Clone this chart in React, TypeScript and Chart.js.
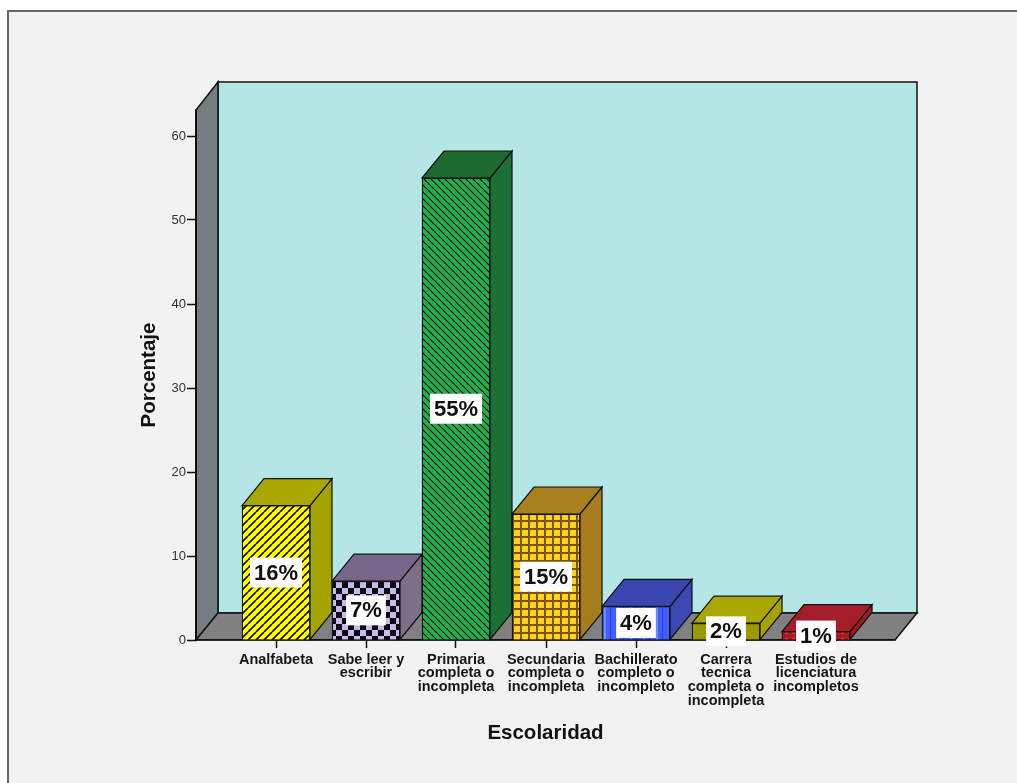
import React, { useEffect, useRef } from "react";
import { Chart, registerables } from "chart.js";

Chart.register(...registerables);

// Education level of the surveyed group
const categories: string[][] = [
  ["Analfabeta"],
  ["Sabe leer y", "escribir"],
  ["Primaria", "completa o", "incompleta"],
  ["Secundaria", "completa o", "incompleta"],
  ["Bachillerato", "completo o", "incompleto"],
  ["Carrera", "tecnica", "completa o", "incompleta"],
  ["Estudios de", "licenciatura", "incompletos"],
];
const percentages = [16, 7, 55, 15, 4, 2, 1];
const yTicks = [0, 10, 20, 30, 40, 50, 60];

const topColors = ["#aaa800", "#77668a", "#1c6a30", "#a8801e", "#3a46b0", "#aaa800", "#a61c28"];
const sideColors = ["#a5a300", "#7e6f88", "#1b7035", "#a67c1c", "#3c48b4", "#a5a300", "#a01a26"];

const FONT = '"Liberation Sans", Arial, sans-serif';
const DEPTH_X = 22;
const DEPTH_Y = 27;

type Painter = (g: CanvasRenderingContext2D, s: number) => void;

function tile(size: number, paint: Painter): CanvasPattern {
  const c = document.createElement("canvas");
  c.width = size;
  c.height = size;
  const g = c.getContext("2d") as CanvasRenderingContext2D;
  paint(g, size);
  return g.createPattern(c, "repeat") as CanvasPattern;
}

function diagonal(bg: string, rising: boolean, size: number, weight: number): CanvasPattern {
  return tile(size, (g, s) => {
    g.fillStyle = bg;
    g.fillRect(0, 0, s, s);
    g.strokeStyle = "#101010";
    g.lineWidth = weight;
    for (let k = -1; k <= 1; k++) {
      g.beginPath();
      if (rising) {
        g.moveTo(k * s, s);
        g.lineTo(k * s + s, 0);
      } else {
        g.moveTo(k * s, 0);
        g.lineTo(k * s + s, s);
      }
      g.stroke();
    }
  });
}

function frontPatterns(): (CanvasPattern | string)[] {
  const checker = tile(12, (g, s) => {
    g.fillStyle = "#c9b8e8";
    g.fillRect(0, 0, s, s);
    g.fillStyle = "#0a0a14";
    g.fillRect(0, 0, s / 2, s / 2);
    g.fillRect(s / 2, s / 2, s / 2, s / 2);
  });
  const grid = tile(8, (g, s) => {
    g.fillStyle = "#ffd21a";
    g.fillRect(0, 0, s, s);
    g.fillStyle = "#7a5410";
    g.fillRect(0, 0, s, 2);
    g.fillRect(0, 0, 2, s);
  });
  const stripes = tile(13, (g, s) => {
    g.fillStyle = "#3f60ff";
    g.fillRect(0, 0, s, s);
    g.fillStyle = "#6f88ff";
    g.fillRect(6, 0, 2, s);
    g.fillStyle = "#2a3ce0";
    g.fillRect(12, 0, 1, s);
  });
  const dots = tile(7, (g, s) => {
    g.fillStyle = "#a81c26";
    g.fillRect(0, 0, s, s);
    g.fillStyle = "#ff2a3a";
    g.fillRect(1, 1, 3, 3);
  });
  return [
    diagonal("#ffff00", true, 8, 1.7),
    checker,
    diagonal("#22b04c", false, 7, 1.2),
    grid,
    stripes,
    "#9c9a00",
    dots,
  ];
}

function polygon(ctx: CanvasRenderingContext2D, pts: number[][], fill: string | CanvasGradient, lw = 1.5) {
  ctx.beginPath();
  pts.forEach(([x, y], i) => (i ? ctx.lineTo(x, y) : ctx.moveTo(x, y)));
  ctx.closePath();
  ctx.fillStyle = fill;
  ctx.fill();
  ctx.lineWidth = lw;
  ctx.strokeStyle = "#111";
  ctx.stroke();
}

// Page panel, the box walls and the floor sit behind the axes
const panelPlugin = {
  id: "panel",
  beforeDraw(chart: any) {
    const { ctx, width, height } = chart;
    ctx.save();
    ctx.fillStyle = "#ffffff";
    ctx.fillRect(0, 0, width, height);
    ctx.fillStyle = "#f2f2f2";
    ctx.fillRect(8, 11, width - 8, height - 11);
    ctx.strokeStyle = "#666666";
    ctx.lineWidth = 2;
    ctx.beginPath();
    ctx.moveTo(8, height);
    ctx.lineTo(8, 11);
    ctx.lineTo(width, 11);
    ctx.stroke();

    const { left, right, top, bottom } = chart.chartArea;
    const bx = left + DEPTH_X;
    const bt = top - DEPTH_Y - 1;
    const bb = bottom - DEPTH_Y;
    const wall = ctx.createLinearGradient(left, 0, bx, 0);
    wall.addColorStop(0, "#7a7a7a");
    wall.addColorStop(1, "#6f8082");
    polygon(ctx, [[bx, bt], [right + DEPTH_X, bt], [right + DEPTH_X, bb], [bx, bb]], "#b3e6e5");
    polygon(ctx, [[left, top], [bx, bt], [bx, bb], [left, bottom]], wall);
    polygon(ctx, [[left, bottom], [bx, bb], [right + DEPTH_X, bb], [right, bottom]], "#808080");
    ctx.restore();
  },
};

// Top and side faces of each column, offset by the box depth
const facesPlugin = {
  id: "faces",
  beforeDatasetsDraw(chart: any) {
    const { ctx } = chart;
    ctx.save();
    chart.getDatasetMeta(0).data.forEach((bar: any, i: number) => {
      const half = bar.width / 2;
      const l = bar.x - half;
      const r = bar.x + half;
      polygon(ctx, [[r, bar.y], [r + DEPTH_X, bar.y - DEPTH_Y], [r + DEPTH_X, bar.base - DEPTH_Y], [r, bar.base]], sideColors[i], 1.2);
      polygon(ctx, [[l, bar.y], [l + DEPTH_X, bar.y - DEPTH_Y], [r + DEPTH_X, bar.y - DEPTH_Y], [r, bar.y]], topColors[i], 1.2);
    });
    ctx.restore();
  },
};

// White percentage tags centred on each column
const tagsPlugin = {
  id: "tags",
  afterDatasetsDraw(chart: any) {
    const { ctx } = chart;
    ctx.save();
    ctx.font = `bold 22px ${FONT}`;
    ctx.textAlign = "center";
    ctx.textBaseline = "middle";
    chart.getDatasetMeta(0).data.forEach((bar: any, i: number) => {
      const text = `${percentages[i]}%`;
      const w = ctx.measureText(text).width + 8;
      const cy = (bar.y + bar.base) / 2;
      ctx.fillStyle = "#ffffff";
      ctx.fillRect(bar.x - w / 2, cy - 15, w, 30);
      ctx.fillStyle = "#111111";
      ctx.fillText(text, bar.x, cy + 1);
    });
    ctx.restore();
  },
};

export default function App() {
  const ref = useRef<HTMLCanvasElement | null>(null);

  useEffect(() => {
    const canvas = ref.current as HTMLCanvasElement;
    const chart = new Chart(canvas, {
      type: "bar",
      data: {
        datasets: [
          {
            data: percentages.map((y, i) => ({ x: i, y })),
            backgroundColor: frontPatterns() as any,
            borderColor: "#111111",
            borderWidth: 1.3,
            barThickness: 68,
          },
        ],
      },
      plugins: [panelPlugin, facesPlugin, tagsPlugin],
      options: {
        responsive: false,
        animation: false,
        layout: { padding: { left: 137, right: 122, top: 110, bottom: 37 } },
        plugins: { legend: { display: false }, tooltip: { enabled: false } },
        scales: {
          x: {
            type: "linear",
            offset: false,
            min: -80 / 90,
            max: 619 / 90,
            afterBuildTicks: (s: any) => {
              s.ticks = categories.map((_, i) => ({ value: i }));
            },
            afterFit: (s: any) => {
              s.height = 106;
            },
            grid: { offset: false, drawOnChartArea: false, color: "#111", tickLength: 8, tickWidth: 1.5 },
            border: { color: "#111", width: 1.5 },
            ticks: {
              autoSkip: false,
              maxRotation: 0,
              padding: 5,
              color: "#161616",
              font: { family: FONT, size: 14.5, weight: "bold", lineHeight: 0.94 },
              callback: (v: any) => categories[v] ?? "",
            },
            title: {
              display: true,
              text: "Escolaridad",
              color: "#111",
              font: { family: FONT, size: 20.5, weight: "bold" },
              padding: { top: 0, bottom: 0 },
            },
          },
          y: {
            min: 0,
            max: 530 / 8.4,
            afterBuildTicks: (s: any) => {
              s.ticks = yTicks.map((value) => ({ value }));
            },
            afterFit: (s: any) => {
              s.width = 59;
            },
            grid: { drawOnChartArea: false, color: "#111", tickLength: 9, tickWidth: 1.5 },
            border: { color: "#111", width: 2 },
            ticks: {
              padding: 1,
              color: "#333",
              font: { family: FONT, size: 13 },
            },
            title: {
              display: true,
              text: "Porcentaje",
              color: "#111",
              font: { family: FONT, size: 20.5, weight: "bold" },
              padding: { top: 0, bottom: 0 },
            },
          },
        },
      },
    } as any);
    return () => chart.destroy();
  }, []);

  return (
    <div style={{ position: "fixed", left: 0, top: 0 }}>
      <canvas ref={ref} width={1017} height={783} style={{ display: "block" }} />
    </div>
  );
}
